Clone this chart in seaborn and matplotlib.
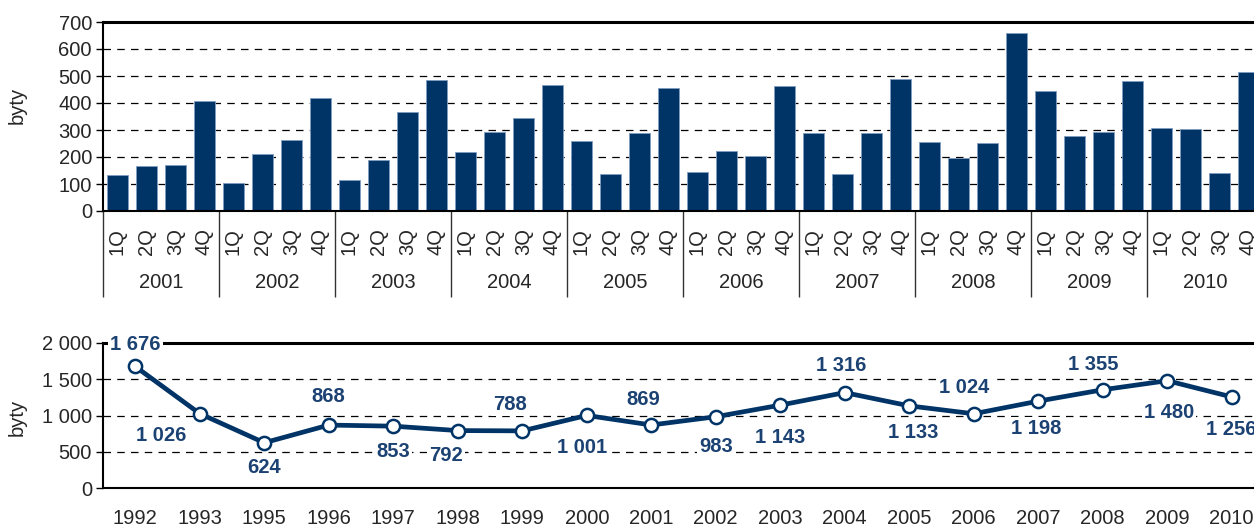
import matplotlib
matplotlib.use("Agg")
import matplotlib.pyplot as plt
import numpy as np
import pandas as pd
import seaborn as sns

# quarterly completed flats 2001-2010 (top chart)
years = ["2001", "2002", "2003", "2004", "2005",
         "2006", "2007", "2008", "2009", "2010"]
quarters = ["1Q", "2Q", "3Q", "4Q"]
quarter_values = [
    133, 168, 171, 409,
    103, 210, 262, 417,
    114, 188, 368, 485,
    220, 294, 346, 466,
    260, 137, 289, 457,
    143, 224, 205, 463,
    288, 138, 290, 489,
    257, 197, 253, 661,
    444, 276, 292, 480,
    309, 303, 142, 515,
]

# yearly totals (bottom chart)
line_years = ["1992", "1993", "1995", "1996", "1997", "1998", "1999",
              "2000", "2001", "2002", "2003", "2004", "2005", "2006",
              "2007", "2008", "2009", "2010"]
line_values = [1676, 1026, 624, 868, 853, 792, 788, 1001, 869, 983,
               1143, 1316, 1133, 1024, 1198, 1355, 1480, 1256]

# label offsets in pixels (dx, dy) relative to each point
label_offsets = [(0, 22), (-39, -22), (0, -25), (0, 29), (0, -25),
                 (-12, -25), (-12, 26), (-5, -32), (-8, 25), (0, -30),
                 (0, -32), (-4, 27), (4, -27), (-10, 26), (-2, -27),
                 (-10, 25), (2, -32), (0, -33)]

NAVY = "#003366"
LABEL_COLOR = "#1c4273"
FS = 14.5


def fmt(v):
    return f"{int(v):,}".replace(",", " ")


sns.set_theme(style="white")
plt.rcParams["font.family"] = ["Liberation Sans", "DejaVu Sans"]

W, H = 1254, 527
fig = plt.figure(figsize=(W / 100, H / 100), dpi=100)

# ---------- top: quarterly bars ----------
ax1 = fig.add_axes([103 / W, 1 - 211 / H, 1160 / W, 189 / H])
bars = pd.DataFrame({
    "slot": [f"{y} {q}" for y in years for q in quarters],
    "byty": quarter_values,
})
sns.barplot(data=bars, x="slot", y="byty", color=NAVY, saturation=1,
            width=0.75, edgecolor="#7f9cc0", linewidth=0.6, ax=ax1)
ax1.set_xlim(-0.5, len(bars) - 0.5)
ax1.set_ylim(0, 700)
ax1.set_yticks(range(0, 701, 100))
ax1.yaxis.grid(True, linestyle=(0, (6, 5)), color="black", linewidth=0.9)
ax1.set_axisbelow(True)
ax1.set_xlabel("")
ax1.set_ylabel("")

ax1.set_xticks(np.arange(len(bars)))
ax1.set_xticklabels(quarters * len(years), rotation=90)
ax1.set_xticks(np.arange(-0.5, len(bars)), minor=True)
ax1.tick_params(axis="x", which="major", length=0, pad=12, labelsize=FS)
ax1.tick_params(axis="x", which="minor", length=30, width=1, color="#333333",
                direction="out")
ax1.tick_params(axis="y", length=5, width=1, direction="out", pad=3,
                labelsize=FS, left=True, color="black")
ax1.vlines(np.arange(-0.5, len(bars), 4), -0.455, 0,
           transform=ax1.get_xaxis_transform(), clip_on=False,
           color="#333333", linewidth=1)
for i, y in enumerate(years):
    ax1.text(i * 4 + 1.5, -0.376, y, transform=ax1.get_xaxis_transform(),
             ha="center", va="center", fontsize=FS)

for side in ["left", "bottom", "top"]:
    ax1.spines[side].set_visible(True)
    ax1.spines[side].set_color("black")
ax1.spines["left"].set_linewidth(1.5)
ax1.spines["bottom"].set_linewidth(1.5)
ax1.spines["top"].set_linewidth(2.2)
ax1.spines["right"].set_visible(False)

# ---------- bottom: yearly line ----------
ax2 = fig.add_axes([103 / W, 1 - 488 / H, 1161 / W, 145 / H])
line = pd.DataFrame({"pos": np.arange(len(line_years)), "byty": line_values})
sns.lineplot(data=line, x="pos", y="byty", ax=ax2, color=NAVY,
             linewidth=3.4, marker="o", markersize=9.5,
             markerfacecolor="white", markeredgecolor=NAVY,
             markeredgewidth=1.8, zorder=4)
ax2.set_xlim(-0.5, len(line_years) - 0.5)
ax2.set_ylim(0, 2000)
ax2.set_yticks(range(0, 2001, 500))
ax2.set_yticklabels([fmt(v) for v in range(0, 2001, 500)])
ax2.yaxis.grid(True, linestyle=(0, (6, 5)), color="black", linewidth=0.9)
ax2.set_axisbelow(True)
ax2.set_xlabel("")
ax2.set_ylabel("")

ax2.set_xticks(np.arange(len(line_years)))
ax2.set_xticklabels(line_years)
ax2.set_xticks(np.arange(-0.5, len(line_years)), minor=True)
ax2.tick_params(axis="x", which="major", length=0, pad=15, labelsize=FS)
ax2.tick_params(axis="x", which="minor", length=5, width=1, color="black",
                direction="out")
ax2.tick_params(axis="y", length=5, width=1, direction="out", pad=3,
                labelsize=FS, left=True, color="black")

for side in ["left", "bottom", "top"]:
    ax2.spines[side].set_visible(True)
    ax2.spines[side].set_color("black")
ax2.spines["left"].set_linewidth(1.5)
ax2.spines["bottom"].set_linewidth(1.5)
ax2.spines["top"].set_linewidth(2.2)
ax2.spines["right"].set_visible(False)

for i, (v, (dx, dy)) in enumerate(zip(line_values, label_offsets)):
    ax2.annotate(fmt(v), (i, v), xytext=(dx, dy), textcoords="offset pixels",
                 ha="center", va="center", fontsize=FS, fontweight="bold",
                 color=LABEL_COLOR, zorder=6,
                 bbox=dict(boxstyle="square,pad=0.1", fc="white", ec="none"))

fig.text(17 / W, 1 - 105 / H, "byty", rotation=90, ha="center", va="center",
         fontsize=FS)
fig.text(17 / W, 1 - 417 / H, "byty", rotation=90, ha="center", va="center",
         fontsize=FS)

fig.savefig("out.png", dpi=100)
